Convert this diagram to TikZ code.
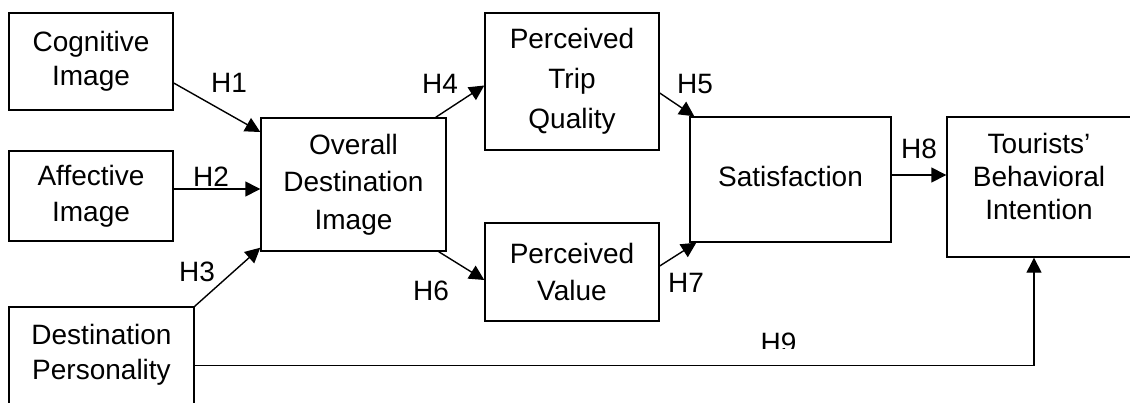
\documentclass[tikz,border=0pt]{standalone}
\usepackage{fontspec}
\setmainfont{Liberation Sans}
\usetikzlibrary{arrows.meta}
\begin{document}
\begin{tikzpicture}[x=1pt,y=-1pt,
  box/.style={draw,line width=1.4pt,inner sep=0pt,align=center,font=\fontsize{28}{36}\selectfont},
  txt/.style={inner sep=0pt,align=center,font=\fontsize{28}{36}\selectfont},
  hl/.style={inner sep=0pt,text height=20pt,text depth=0pt,font=\fontsize{28}{34}\selectfont},
  arr/.style={line width=1.4pt,-{Triangle[length=15pt,width=15pt]}}]
\useasboundingbox (0,0) rectangle (1130,402);
% boxes
\node[box,minimum width=164pt,minimum height=97pt,font=\fontsize{28}{34}\selectfont] (ci) at (91,61.5) {Cognitive\\Image};
\node[box,minimum width=164pt,minimum height=90pt] (ai) at (91,196) {Affective\\Image};
\node[box,minimum width=185pt,minimum height=113pt] (dp) at (101.5,363.5) {};
\node[txt,font=\fontsize{28}{35}\selectfont] (dpt) at (101.5,355) {Destination\\Personality};
\node[box,minimum width=185pt,minimum height=133pt,font=\fontsize{28}{37.5}\selectfont] (odi) at (353.5,184.5) {Overall\\Destination\\Image};
\node[box,minimum width=174pt,minimum height=137pt,font=\fontsize{28}{40}\selectfont] (ptq) at (572,81.5) {Perceived\\Trip\\Quality};
\node[box,minimum width=174pt,minimum height=98pt,font=\fontsize{28}{37}\selectfont] (pv) at (572,272) {Perceived\\Value};
\node[box,minimum width=201pt,minimum height=125pt] (sat) at (790.5,179.5) {};
\node[txt] (satt) at (790.5,176) {Satisfaction};
\node[box,minimum width=185pt,minimum height=140pt] (tbi) at (1039.5,187) {};
\node[txt,font=\fontsize{28}{33}\selectfont] (tbit) at (1039,176) {Tourists’\\Behavioral\\Intention};
% connectors
\draw[arr] ([yshift=-21.5pt]ci.east) -- ([yshift=52.5pt]odi.west);
\draw[arr] ([yshift=7pt]ai.east) -- ([yshift=7pt]ai.east -| odi.west);
\draw[arr] (dp.north east) -- ([yshift=4pt]odi.south west);
\draw[arr] ([xshift=-11pt]odi.north east) -- ([yshift=-4pt]ptq.west);
\draw[arr] ([xshift=-8pt]odi.south east) -- ([yshift=-8pt]pv.west);
\draw[arr] ([yshift=-11.5pt]ptq.east) -- ([xshift=5pt]sat.north west);
\draw[arr] ([yshift=6pt]pv.east) -- ([xshift=7pt]sat.south west);
\draw[arr] ([yshift=4.5pt]sat.east) -- ([yshift=4.5pt]sat.east -| tbi.west);
\draw[arr] ([yshift=-2pt]dp.east) -| ([xshift=-5.5pt]tbi.south);
% labels
\node[hl] (h1) at (229,82.5) {H1};
\node[hl] (h2) at (211,176) {H2};
\node[hl] (h3) at (197,271.5) {H3};
\node[hl] (h4) at (440,83) {H4};
\node[hl] (h5) at (695,83) {H5};
\node[hl] (h6) at (431,290.5) {H6};
\node[hl] (h7) at (686,282.5) {H7};
\node[hl] (h8) at (919,148) {H8};
\begin{scope}
\clip (700,300) rectangle (850,348);
\node[hl] (h9) at (778.5,342) {H9};
\end{scope}
\end{tikzpicture}
\end{document}
